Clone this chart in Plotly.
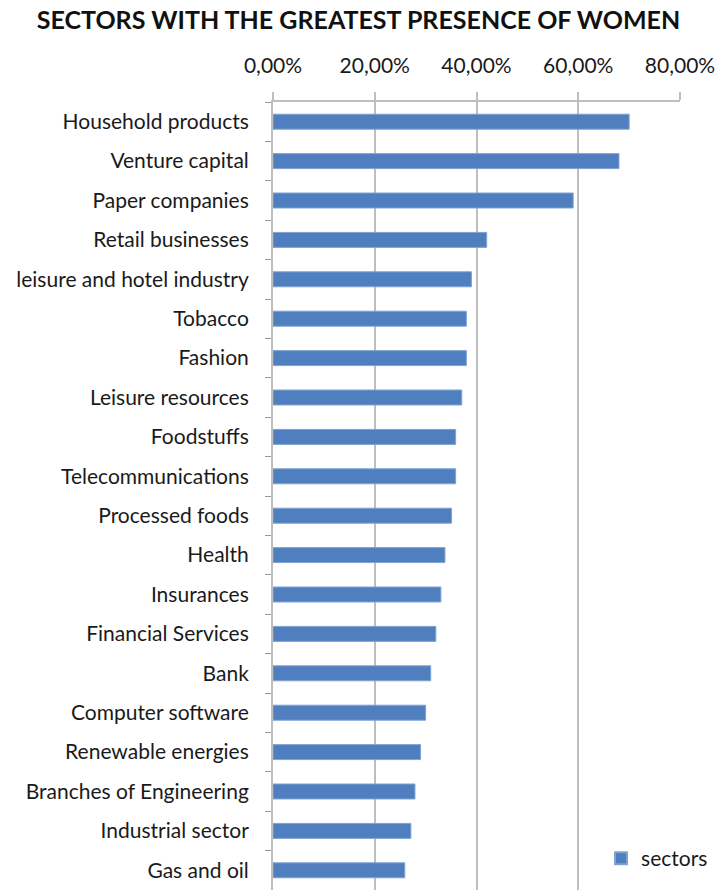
import plotly.graph_objects as go

# Sectors listed top to bottom
sectors = [
    "Household products", "Venture capital", "Paper companies", "Retail businesses",
    "leisure and hotel industry", "Tobacco", "Fashion", "Leisure resources",
    "Foodstuffs", "Telecommunications", "Processed foods", "Health",
    "Insurances", "Financial Services", "Bank", "Computer software",
    "Renewable energies", "Branches of Engineering", "Industrial sector", "Gas and oil",
]
# Share of women per sector (fraction)
share = [
    0.70, 0.68, 0.59, 0.42, 0.39, 0.38, 0.38, 0.371, 0.359, 0.359,
    0.351, 0.338, 0.33, 0.32, 0.31, 0.30, 0.29, 0.279, 0.271, 0.259,
]
tick_vals = [0.0, 0.2, 0.4, 0.6, 0.8]
tick_text = ["0,00%", "20,00%", "40,00%", "60,00%", "80,00%"]

FONT = "Lato, 'Open Sans', sans-serif"

fig = go.Figure(
    go.Bar(
        x=share,
        y=sectors,
        orientation="h",
        name="sectors",
        marker=dict(color="#4F7FBE", line=dict(color="#7FA3D4", width=1)),
        width=0.38,
    )
)

fig.update_layout(
    width=717,
    height=891,
    margin=dict(l=273, r=37, t=102, b=1, autoexpand=False),
    paper_bgcolor="white",
    plot_bgcolor="white",
    font=dict(family=FONT, size=21, color="#1a1a1a"),
    title=dict(
        text="<b>SECTORS WITH THE GREATEST PRESENCE OF WOMEN</b>",
        x=0.5, xanchor="center", y=0.977, yanchor="middle",
        font=dict(family=FONT, size=25, color="#111"),
    ),
    showlegend=True,
    legend=dict(
        x=0.806, y=0.04, xanchor="left", yanchor="middle",
        bgcolor="white", font=dict(size=21, color="#1a1a1a"),
        itemsizing="constant",
    ),
    xaxis=dict(
        side="top",
        range=[0, 0.8],
        tickvals=tick_vals,
        ticktext=tick_text,
        showgrid=True,
        gridcolor="#BEBEBE",
        gridwidth=2,
        showline=True,
        linecolor="#BEBEBE",
        linewidth=2,
        ticks="outside",
        ticklen=8,
        tickcolor="#BEBEBE",
        tickwidth=2,
        ticklabelstandoff=11,
        zeroline=False,
        tickfont=dict(size=21),
    ),
    yaxis=dict(
        autorange="reversed",
        showline=True,
        linecolor="#BEBEBE",
        linewidth=2,
        ticks="outside",
        tickson="boundaries",
        ticklen=6,
        tickcolor="#999",
        ticklabelstandoff=18,
        showgrid=False,
        tickfont=dict(size=21),
    ),
)

fig.write_html("out.html")
